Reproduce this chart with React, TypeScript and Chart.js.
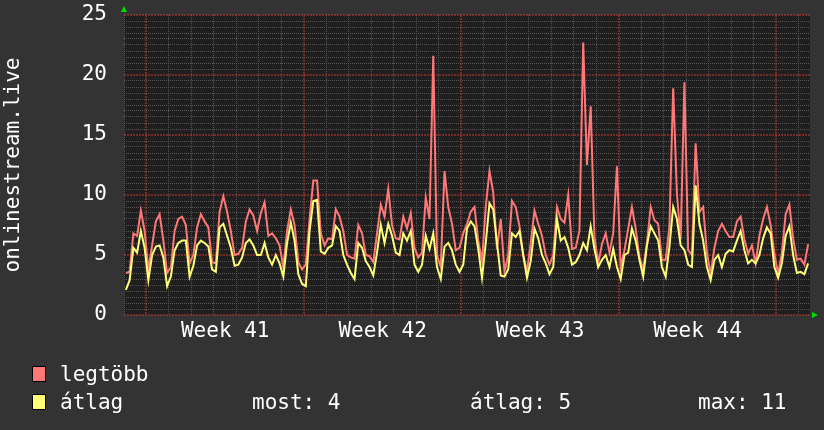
import React, { useEffect, useRef } from 'react';
import { Chart, registerables } from 'chart.js';

Chart.register(...registerables);

// ---- data (4-hour samples, 6 per day, starting one day before Week 41) ----
const samplesPerDay = 6;
const dayCount = 30.5;

const maxSeries = [
  3.5, 3.6, 6.8, 6.6, 8.7, 7.0,
  3.8, 5.8, 7.8, 8.4, 6.2, 3.5,
  4.0, 7.0, 8.0, 8.2, 7.5, 4.3,
  5.0, 7.3, 8.4, 7.8, 7.3, 4.4,
  4.3, 8.6, 9.9, 8.6, 7.0, 5.0,
  5.1, 5.6, 7.8, 8.8, 8.3, 7.0,
  8.5, 9.4, 6.6, 6.8, 6.4, 5.8,
  4.0, 7.0, 8.8, 7.5, 4.4, 3.8,
  4.2, 8.0, 11.2, 11.2, 6.8, 5.8,
  6.4, 6.3, 8.8, 8.2, 7.0, 5.0,
  4.8, 4.7, 7.5, 6.8, 5.0, 4.9,
  4.4, 6.8, 9.2, 8.2, 10.5, 7.5,
  6.4, 6.3, 8.2, 7.2, 8.5, 5.6,
  4.8, 5.2, 9.8, 8.0, 21.6, 5.0,
  4.0, 12.0, 9.0, 7.6, 5.4, 5.6,
  6.8, 7.6, 8.6, 9.0, 6.2, 4.5,
  9.0, 12.0, 10.2, 5.5, 8.0, 3.6,
  5.0, 9.5, 9.0, 7.4, 5.0, 3.6,
  6.0, 8.7, 7.6, 6.6, 5.0, 4.2,
  5.0, 9.0, 8.0, 7.7, 10.0, 5.5,
  5.6, 7.0, 22.7, 12.5, 17.4, 6.5,
  4.3, 5.9, 6.8, 5.2, 6.8, 12.4,
  4.0, 5.4, 7.2, 9.0, 7.2, 4.8,
  3.8, 6.0, 9.0, 7.9, 7.6, 4.6,
  4.6, 7.4, 18.9, 10.1, 6.3, 19.4,
  5.4, 5.0, 14.3, 8.6, 9.0, 5.2,
  3.4, 5.6, 7.0, 7.6, 7.0, 6.5,
  6.5, 7.8, 8.2, 6.3, 5.1, 5.8,
  4.3, 6.6, 8.0, 9.0, 7.5, 5.1,
  3.4, 5.2, 8.4, 9.2, 6.4, 4.6,
  4.7, 4.2, 5.9,
];

const avgSeries = [
  2.1, 2.9, 5.6, 5.2, 7.0, 5.6,
  2.9, 5.0, 5.7, 5.8, 4.8, 2.4,
  3.2, 5.4, 6.0, 6.2, 6.2, 3.2,
  4.1, 5.8, 6.2, 6.0, 5.7, 3.8,
  3.6, 7.3, 7.6, 6.6, 5.6, 4.1,
  4.2, 4.8, 6.0, 6.3, 5.8, 5.0,
  5.0, 6.0, 4.8, 4.2, 5.0, 4.3,
  3.2, 6.0, 7.7, 6.2, 3.4, 2.6,
  2.4, 7.0, 9.5, 9.6, 5.3, 5.1,
  5.6, 5.8, 7.4, 7.0, 5.0, 4.2,
  3.5, 3.0, 6.0, 5.6, 4.5, 4.0,
  3.3, 5.2, 7.5, 6.0, 7.6, 6.6,
  5.2, 5.0, 6.8, 6.2, 7.0, 4.2,
  3.6, 4.2, 6.6, 5.5, 6.8, 4.0,
  3.0, 5.7, 6.0, 5.4, 4.2, 3.6,
  4.2, 7.2, 7.8, 7.4, 5.5, 3.1,
  6.0, 9.3, 8.8, 6.0, 3.3, 3.2,
  3.8, 6.8, 6.5, 7.0, 5.0, 3.1,
  4.5, 7.2, 6.4, 5.0, 4.3, 3.4,
  4.0, 8.0, 6.2, 6.5, 5.6, 4.2,
  4.4, 5.0, 6.0, 5.4, 7.4, 5.5,
  4.0, 4.6, 5.0, 4.0, 5.5, 4.0,
  3.0, 5.0, 5.2, 7.2, 6.2, 4.6,
  3.2, 5.8, 7.4, 6.8, 6.2, 4.0,
  3.2, 5.7, 9.0, 8.0, 5.8, 5.4,
  4.2, 4.0, 10.8, 7.6, 6.2, 4.0,
  2.9, 4.6, 5.0, 4.0, 5.1, 5.4,
  5.3, 6.2, 7.0, 5.4, 4.3, 4.6,
  4.3, 5.0, 6.4, 7.3, 6.8, 4.0,
  3.1, 4.3, 6.6, 7.4, 5.0, 3.5,
  3.6, 3.4, 4.3,
];

const weekLabels = ['Week 41', 'Week 42', 'Week 43', 'Week 44'];
const weekLabelDays = [4.5, 11.5, 18.5, 25.5];
const weekStartDays = [1, 8, 15, 22, 29];
const yMax = 25;
const yMinorStep = 0.5;
const yMajorTicks = [0, 5, 10, 15, 20, 25];
const axisTitle = 'onlinestream.live';
const legendNames = ['legtöbb', 'átlag'];
const legendStats = ['most: 4', 'átlag: 5', 'max: 11'];

const FONT = '"DejaVu Sans Mono", monospace';
const RED = '#ff7777';
const YELLOW = '#ffff77';
const GRID_MINOR = '#555555';
const GRID_MAJOR = '#c83a3a';

const toPoints = (arr: number[]) =>
  arr.map((v, i) => ({ x: (i + 0.5) / samplesPerDay, y: v }));

const near = (list: number[], v: number) => list.some((m) => Math.abs(m - v) < 1e-6);

const zeroPad = (s: any) => {
  s.paddingTop = 0;
  s.paddingBottom = 0;
  s.paddingLeft = 0;
  s.paddingRight = 0;
};

const decor = {
  id: 'decor',
  beforeDraw(chart: any) {
    const { ctx, chartArea: a, width, height } = chart;
    ctx.save();
    ctx.fillStyle = '#333333';
    ctx.fillRect(0, 0, width, height);
    ctx.fillStyle = '#1f1f1f';
    ctx.fillRect(a.left, a.top, a.right - a.left, a.bottom - a.top);
    ctx.restore();
  },
  beforeDatasetsDraw(chart: any) {
    // major (red) dotted grid lines, placed through the chart's own scales
    const { ctx, chartArea: a, scales } = chart;
    ctx.save();
    ctx.strokeStyle = GRID_MAJOR;
    ctx.lineWidth = 1;
    ctx.setLineDash([2, 1]);
    yMajorTicks.forEach((v) => {
      const y = Math.round(scales.y.getPixelForValue(v));
      ctx.beginPath();
      ctx.moveTo(a.left, y);
      ctx.lineTo(a.right, y);
      ctx.stroke();
    });
    weekStartDays.forEach((d) => {
      const x = Math.round(scales.x.getPixelForValue(d));
      ctx.beginPath();
      ctx.moveTo(x, a.top);
      ctx.lineTo(x, a.bottom);
      ctx.stroke();
    });
    ctx.restore();
  },
  afterDraw(chart: any) {
    const { ctx, chartArea: a } = chart;
    ctx.save();
    // y-axis title
    ctx.fillStyle = '#ffffff';
    ctx.font = `21px ${FONT}`;
    ctx.translate(14, (a.top + a.bottom) / 2);
    ctx.rotate(-Math.PI / 2);
    ctx.textAlign = 'center';
    ctx.textBaseline = 'middle';
    ctx.fillText(axisTitle, 0, 0);
    ctx.restore();

    // axis arrows
    ctx.save();
    ctx.fillStyle = '#00dd00';
    ctx.beginPath();
    ctx.moveTo(a.left - 3, a.top - 3);
    ctx.lineTo(a.left + 3, a.top - 3);
    ctx.lineTo(a.left, a.top - 9);
    ctx.closePath();
    ctx.fill();
    ctx.beginPath();
    ctx.moveTo(a.right + 2, a.bottom - 3);
    ctx.lineTo(a.right + 2, a.bottom + 3);
    ctx.lineTo(a.right + 8, a.bottom);
    ctx.closePath();
    ctx.fill();
    ctx.restore();

    // legend
    ctx.save();
    const colors = [RED, YELLOW];
    const rowBase = [381, 409];
    ctx.font = `21px ${FONT}`;
    ctx.textBaseline = 'alphabetic';
    ctx.textAlign = 'left';
    for (let r = 0; r < 2; r++) {
      ctx.fillStyle = colors[r];
      ctx.fillRect(32, rowBase[r] - 15, 14, 16);
      ctx.strokeStyle = '#000000';
      ctx.lineWidth = 1;
      ctx.strokeRect(32.5, rowBase[r] - 14.5, 13, 15);
      ctx.fillStyle = '#ffffff';
      ctx.fillText(legendNames[r], 60, rowBase[r]);
    }
    const statX = [252, 470, 698];
    legendStats.forEach((s, i) => ctx.fillText(s, statX[i], rowBase[1]));
    ctx.restore();
  },
};

export default function App() {
  const ref = useRef<HTMLCanvasElement | null>(null);

  useEffect(() => {
    document.body.style.margin = '0';
    if (!ref.current) return;
    const dayTicks: number[] = [];
    for (let d = 0; d <= Math.floor(dayCount); d++) dayTicks.push(d);

    const chart = new Chart(ref.current, {
      type: 'line',
      data: {
        datasets: [
          {
            label: legendNames[1],
            data: toPoints(avgSeries),
            borderColor: YELLOW,
            borderWidth: 2,
            pointRadius: 0,
            tension: 0,
            order: 1,
          },
          {
            label: legendNames[0],
            data: toPoints(maxSeries),
            borderColor: RED,
            borderWidth: 2,
            pointRadius: 0,
            tension: 0,
            order: 2,
          },
        ],
      },
      options: {
        animation: false,
        responsive: false,
        devicePixelRatio: 1,
        layout: { padding: { left: 0, right: 14, top: 15, bottom: 75 } },
        plugins: { legend: { display: false }, tooltip: { enabled: false } },
        scales: {
          x: {
            type: 'linear',
            position: 'bottom',
            min: 0,
            max: dayCount,
            afterBuildTicks: (s: any) => {
              s.ticks = dayTicks.map((v) => ({ value: v }));
            },
            ticks: { display: false, autoSkip: false },
            grid: {
              drawTicks: false,
              lineWidth: 1,
              color: (c: any) =>
                c.tick && near(weekStartDays, c.tick.value) ? 'rgba(0,0,0,0)' : GRID_MINOR,
            },
            border: { display: false, dash: [1, 1] },
            afterFit: (s: any) => {
              s.height = 0;
              zeroPad(s);
            },
          },
          xWeeks: {
            type: 'linear',
            position: 'bottom',
            min: 0,
            max: dayCount,
            afterBuildTicks: (s: any) => {
              s.ticks = weekLabelDays.map((v) => ({ value: v }));
            },
            ticks: {
              autoSkip: false,
              maxRotation: 0,
              padding: 4,
              color: '#ffffff',
              font: { family: FONT, size: 21 },
              callback: (_v: any, i: number) => weekLabels[i],
            },
            grid: { display: false, drawTicks: false },
            border: { display: false },
            afterFit: (s: any) => {
              s.height = 40;
              zeroPad(s);
            },
          },
          y: {
            type: 'linear',
            min: 0,
            max: yMax,
            ticks: {
              stepSize: yMinorStep,
              autoSkip: false,
              padding: 17,
              color: '#ffffff',
              font: { family: FONT, size: 21 },
              callback: (v: any) => (near(yMajorTicks, v) ? String(Math.round(v)) : ''),
            },
            grid: {
              drawTicks: false,
              lineWidth: 1,
              color: (c: any) =>
                c.tick && near(yMajorTicks, c.tick.value) ? 'rgba(0,0,0,0)' : GRID_MINOR,
            },
            border: { display: false, dash: [1, 1] },
            afterFit: (s: any) => {
              s.width = 124;
              zeroPad(s);
            },
          },
        },
      },
      plugins: [decor],
    } as any);
    return () => chart.destroy();
  }, []);

  return (
    <div style={{ width: 824, height: 430, background: '#333333' }}>
      <canvas ref={ref} width={824} height={430} style={{ display: 'block', width: 824, height: 430 }} />
    </div>
  );
}
